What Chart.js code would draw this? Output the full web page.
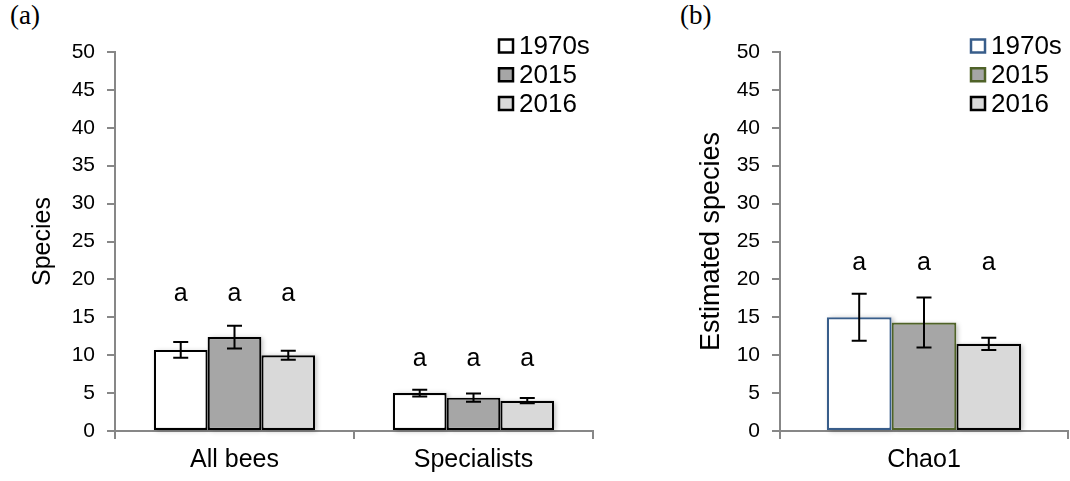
<!DOCTYPE html>
<html lang="en">
<head>
<meta charset="UTF-8">
<title>Bee species richness</title>
<script src="https://cdn.jsdelivr.net/npm/chart.js"></script>
<style>
  body { margin: 0; background: #fff; width: 1070px; height: 481px; position: relative; overflow: hidden; }
  canvas { position: absolute; top: 0; }
  #chartA { left: 0; }
  #chartB { left: 650px; }
  .tag { position: absolute; top: 2px; font-family: "Liberation Serif", "Times New Roman", serif; font-size: 27px; line-height: 1; }
</style>
</head>
<body>
<div class="tag" style="left:10px">(a)</div>
<div class="tag" style="left:680px">(b)</div>
<canvas id="chartA" width="610" height="481"></canvas>
<canvas id="chartB" width="420" height="481"></canvas>
<script>
// panel (a): observed species
const categoriesA = ['All bees', 'Specialists'];
const obs1970s = [10.7, 5.0];
const obs2015 = [12.4, 4.4];
const obs2016 = [10.0, 4.0];
const obsErr1970s = [1.05, 0.45];
const obsErr2015 = [1.5, 0.55];
const obsErr2016 = [0.6, 0.35];
const lettersA = ['a', 'a'];

// panel (b): Chao1 estimate
const categoriesB = ['Chao1'];
const chao1970s = [15.0];
const chao2015 = [14.3];
const chao2016 = [11.5];
const chaoErr1970s = [3.1];
const chaoErr2015 = [3.3];
const chaoErr2016 = [0.8];
const lettersB = ['a'];

const periods = ['1970s', '2015', '2016'];
const yMin = 0, yMax = 50, yStep = 5;

const SANS = '"Liberation Sans", Arial, sans-serif';
const AXIS_GREY = '#878787';

// soft shadow behind each bar
const barShadow = {
  id: 'barShadow',
  beforeDatasetsDraw(chart) {
    const ctx = chart.ctx;
    ctx.save();
    ctx.fillStyle = '#fff';
    ctx.shadowColor = 'rgba(0,0,0,0.28)';
    ctx.shadowBlur = 5;
    ctx.shadowOffsetX = 2;
    ctx.shadowOffsetY = 1;
    chart.data.datasets.forEach((ds, i) => {
      chart.getDatasetMeta(i).data.forEach(el => {
        const p = el.getProps(['x', 'y', 'base', 'width'], true);
        ctx.fillRect(p.x - p.width / 2, p.y, p.width, p.base - p.y);
      });
    });
    ctx.restore();
  }
};

// whiskers from the errors array of each dataset
const errorBars = {
  id: 'errorBars',
  afterDatasetsDraw(chart) {
    const ctx = chart.ctx;
    const y = chart.scales.y;
    ctx.save();
    ctx.strokeStyle = '#000';
    ctx.lineWidth = 2;
    chart.data.datasets.forEach((ds, i) => {
      chart.getDatasetMeta(i).data.forEach((el, j) => {
        const v = ds.data[j], e = ds.errors[j];
        const top = y.getPixelForValue(v + e);
        const bot = y.getPixelForValue(v - e);
        const x = el.x, cap = 7.5;
        ctx.beginPath();
        ctx.moveTo(x, top); ctx.lineTo(x, bot);
        ctx.moveTo(x - cap, top); ctx.lineTo(x + cap, top);
        ctx.moveTo(x - cap, bot); ctx.lineTo(x + cap, bot);
        ctx.stroke();
      });
    });
    ctx.restore();
  }
};

// significance letters above each group
const groupLetters = {
  id: 'groupLetters',
  afterDatasetsDraw(chart, args, opts) {
    const ctx = chart.ctx;
    const y = chart.scales.y;
    ctx.save();
    ctx.fillStyle = '#000';
    ctx.font = '25px ' + SANS;
    ctx.textAlign = 'center';
    ctx.textBaseline = 'middle';
    opts.letters.forEach((letter, j) => {
      let top = 0;
      chart.data.datasets.forEach(ds => { top = Math.max(top, ds.data[j] + ds.errors[j]); });
      const py = y.getPixelForValue(top + 4.1);
      chart.data.datasets.forEach((ds, i) => {
        ctx.fillText(letter, chart.getDatasetMeta(i).data[j].x, py);
      });
    });
    ctx.restore();
  }
};

// stacked legend in the top right corner of the plot
const boxLegend = {
  id: 'boxLegend',
  afterDraw(chart, args, opts) {
    const ctx = chart.ctx;
    ctx.save();
    ctx.font = '26px ' + SANS;
    ctx.textBaseline = 'middle';
    chart.data.datasets.forEach((ds, i) => {
      const cy = opts.y + i * opts.gap;
      ctx.fillStyle = ds.backgroundColor;
      ctx.fillRect(opts.x, cy - 6.5, 14, 13);
      ctx.strokeStyle = ds.borderColor;
      ctx.lineWidth = 2.5;
      ctx.strokeRect(opts.x, cy - 6.5, 14, 13);
      ctx.fillStyle = '#000';
      ctx.fillText(ds.label, opts.x + 20, cy + 1);
    });
    ctx.restore();
  }
};

function makeChart(id, labels, series, errors, borders, opt) {
  const fills = ['#ffffff', '#a6a6a6', '#d9d9d9'];
  return new Chart(document.getElementById(id), {
    type: 'bar',
    data: {
      labels: labels,
      datasets: series.map((s, i) => ({
        label: periods[i],
        data: s,
        errors: errors[i],
        backgroundColor: fills[i],
        borderColor: borders[i],
        borderWidth: 2.2,
        borderSkipped: false,
        inflateAmount: 0,
        categoryPercentage: 0.675,
        barPercentage: 1.0
      }))
    },
    options: {
      responsive: false,
      animation: false,
      layout: { padding: { left: 0, top: 52, right: opt.padRight, bottom: 0 } },
      plugins: {
        legend: { display: false },
        tooltip: { enabled: false },
        groupLetters: { letters: opt.letters },
        boxLegend: { x: opt.legendX, y: 46, gap: 28.75 }
      },
      scales: {
        x: {
          offset: true,
          grid: { offset: true, drawOnChartArea: false, drawTicks: true, tickLength: 8, color: AXIS_GREY, lineWidth: 2 },
          border: { color: AXIS_GREY, width: 2 },
          ticks: { color: '#000', font: { family: SANS, size: 25 }, padding: 6 },
          afterFit(scale) { scale.height = 50; }
        },
        y: {
          min: yMin, max: yMax,
          grid: { drawOnChartArea: false, drawTicks: true, tickLength: 8, color: AXIS_GREY, lineWidth: 2 },
          border: { color: AXIS_GREY, width: 2 },
          ticks: { stepSize: yStep, color: '#000', font: { family: SANS, size: 21 }, padding: 12 },
          title: { display: true, text: opt.yTitle, color: '#000', font: { family: SANS, size: opt.titleSize }, padding: { top: opt.titlePad, bottom: 0 } },
          afterFit(scale) { scale.width = opt.axisLeft; }
        }
      }
    },
    plugins: [barShadow, errorBars, groupLetters, boxLegend]
  });
}

makeChart('chartA', categoriesA,
  [obs1970s, obs2015, obs2016],
  [obsErr1970s, obsErr2015, obsErr2016],
  ['#000', '#000', '#000'],
  { padRight: 17, axisLeft: 115, yTitle: 'Species', titleSize: 25, titlePad: 28, letters: lettersA, legendX: 499 });

makeChart('chartB', categoriesB,
  [chao1970s, chao2015, chao2016],
  [chaoErr1970s, chaoErr2015, chaoErr2016],
  ['#385d8a', '#4f6228', '#000'],
  { padRight: 2, axisLeft: 130, yTitle: 'Estimated species', titleSize: 27, titlePad: 45, letters: lettersB, legendX: 321 });
</script>
</body>
</html>
